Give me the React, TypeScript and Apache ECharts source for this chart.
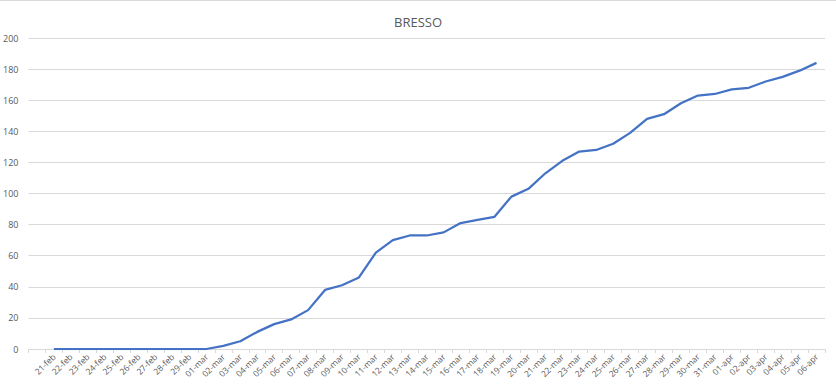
import React, { useEffect, useRef } from "react";
import * as echarts from "echarts";

const categories: string[] = [
  "",
  "21-feb", "22-feb", "23-feb", "24-feb", "25-feb", "26-feb", "27-feb", "28-feb", "29-feb",
  "01-mar", "02-mar", "03-mar", "04-mar", "05-mar", "06-mar", "07-mar", "08-mar", "09-mar", "10-mar",
  "11-mar", "12-mar", "13-mar", "14-mar", "15-mar", "16-mar", "17-mar", "18-mar", "19-mar", "20-mar",
  "21-mar", "22-mar", "23-mar", "24-mar", "25-mar", "26-mar", "27-mar", "28-mar", "29-mar", "30-mar",
  "31-mar", "01-apr", "02-apr", "03-apr", "04-apr", "05-apr", "06-apr",
];

const values: (number | null)[] = [
  null,
  0, 0, 0, 0, 0, 0, 0, 0, 0,
  0, 2, 5, 11, 16, 19, 25, 38, 41, 46,
  62, 70, 73, 73, 75, 81, 83, 85, 98, 103,
  113, 121, 127, 128, 132, 139, 148, 151, 158, 163,
  164, 167, 168, 172, 175, 179, 184,
];

const yTicks = { min: 0, max: 200, interval: 20 };

export default function App() {
  const ref = useRef<HTMLDivElement>(null);
  useEffect(() => {
    if (!ref.current) return;
    const chart = echarts.init(ref.current, null, { renderer: "svg" });
    const font = "Open Sans, Liberation Sans, sans-serif";
    chart.setOption({
      animation: false,
      backgroundColor: "#ffffff",
      title: {
        text: "BRESSO",
        left: "center",
        top: 9,
        textStyle: { color: "#595959", fontSize: 13, fontWeight: "normal", fontFamily: font },
      },
      grid: { left: 27, right: 11, top: 37, bottom: 38, containLabel: false },
      xAxis: {
        type: "category",
        data: categories,
        boundaryGap: true,
        axisLine: { lineStyle: { color: "#d9d9d9", width: 1 } },
        axisTick: { show: true, alignWithLabel: false, interval: 0, length: 4, lineStyle: { color: "#d9d9d9" } },
        axisLabel: {
          interval: 0,
          rotate: 45,
          color: "#595959",
          fontSize: 8.5,
          fontFamily: font,
          margin: 6,
        },
      },
      yAxis: {
        type: "value",
        min: yTicks.min,
        max: yTicks.max,
        interval: yTicks.interval,
        axisLine: { show: false },
        axisTick: { show: false },
        splitLine: { lineStyle: { color: "#d9d9d9", width: 1 } },
        axisLabel: { color: "#595959", fontSize: 9, fontFamily: font, margin: 10 },
      },
      series: [
        {
          type: "line",
          data: values,
          symbol: "none",
          lineStyle: { color: "#4472C4", width: 2.25 },
          itemStyle: { color: "#4472C4" },
        },
      ],
    });
    return () => chart.dispose();
  }, []);
  return (
    <div
      ref={ref}
      style={{ position: "absolute", left: 0, top: 0, width: 836, height: 387, boxSizing: "border-box", borderTop: "1px solid #d9d9d9" }}
    />
  );
}
